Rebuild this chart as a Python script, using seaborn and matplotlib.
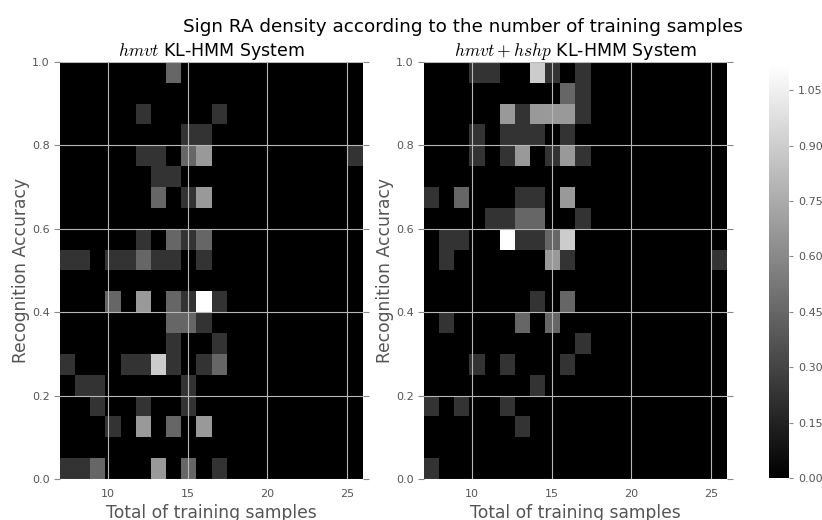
import numpy as np
import matplotlib
matplotlib.use("Agg")
import matplotlib.pyplot as plt
import seaborn as sns

# Recognition accuracy levels (one row of the histogram each)
hmvt_levels = [0.975, 0.875, 0.825, 0.775, 0.725, 0.675, 0.575, 0.525,
               0.425, 0.375, 0.325, 0.275, 0.225, 0.175, 0.125, 0.025]
# number of training samples per sign at each accuracy level
hmvt_samples = [[14], [12, 17], [15, 16], [12, 13, 15, 16, 26], [13, 14],
                [13, 15, 16], [12, 14, 15, 16], [7, 8, 10, 11, 12, 13, 14, 16],
                [10, 12, 14, 15, 16, 17], [14, 15, 16], [14, 17],
                [7, 11, 12, 13, 14, 16, 17], [8, 9, 15], [9, 12, 15],
                [10, 12, 14, 16], [7, 8, 9, 13, 15, 17]]
# number of signs in each (samples, accuracy) cell
hmvt_signs = [[2], [1, 1], [1, 1], [1, 1, 2, 3, 1], [1, 1],
              [2, 1, 3], [1, 2, 1, 2], [1, 1, 1, 1, 2, 1, 1, 1],
              [2, 3, 2, 1, 5, 1], [2, 2, 1], [1, 1],
              [1, 1, 1, 4, 1, 1, 2], [1, 1, 1], [1, 1, 1],
              [1, 3, 2, 3], [1, 1, 2, 3, 2, 1]]

hshp_levels = [0.975, 0.925, 0.875, 0.825, 0.775, 0.675, 0.625, 0.575,
               0.525, 0.425, 0.375, 0.325, 0.275, 0.225, 0.175, 0.125, 0.025]
hshp_samples = [[10, 11, 14, 15, 17], [16, 17], [12, 13, 14, 15, 16, 17],
                [10, 12, 13, 14, 16], [10, 12, 13, 15, 16, 17],
                [7, 9, 13, 14, 16], [11, 12, 13, 14, 17],
                [8, 9, 12, 13, 14, 15, 16], [8, 15, 16, 26],
                [14, 16], [8, 13, 15], [17], [10, 12, 16], [14],
                [7, 9, 12], [13], [7]]
hshp_signs = [[1, 1, 4, 1, 1], [2, 1], [3, 1, 3, 3, 3, 1],
              [1, 1, 1, 1, 1], [1, 1, 3, 1, 3, 1],
              [1, 2, 1, 1, 3], [1, 1, 2, 2, 1],
              [1, 1, 5, 1, 1, 2, 4], [1, 3, 1, 1],
              [1, 2], [1, 2, 2], [1], [1, 1, 1], [1],
              [1, 1, 1], [1], [1]]

titles = ["$hmvt$ KL-HMM System", "$hmvt + hshp$ KL-HMM System"]
cbar_ticks = [0.00, 0.15, 0.30, 0.45, 0.60, 0.75, 0.90, 1.05]


def flatten(levels, samples, signs):
    x, y, w = [], [], []
    for lev, ss, nn in zip(levels, samples, signs):
        for s, n in zip(ss, nn):
            x.append(s)
            y.append(lev)
            w.append(n)
    return x, y, w


grey = "#555555"
plt.rcParams["font.family"] = "DejaVu Sans"
plt.rcParams["mathtext.fontset"] = "cm"

fig = plt.figure(figsize=(8.22, 5.2), dpi=100)
ax1 = fig.add_axes([0.073, 0.079, 0.3686, 0.802])
ax2 = fig.add_axes([0.5158, 0.079, 0.3686, 0.802])
cax = fig.add_axes([0.9355, 0.081, 0.0243, 0.795])

xbins = np.linspace(7, 26, 21)
ybins = np.linspace(0, 1, 21)

panels = [(hmvt_levels, hmvt_samples, hmvt_signs), (hshp_levels, hshp_samples, hshp_signs)]
for i, (ax, data) in enumerate(zip([ax1, ax2], panels)):
    x, y, w = flatten(*data)
    sns.histplot(x=x, y=y, weights=w, bins=[xbins, ybins], stat="density",
                 thresh=None, cmap="gray", vmin=0, vmax=1.12, ax=ax,
                 cbar=(i == 1), cbar_ax=cax if i == 1 else None,
                 cbar_kws={"ticks": cbar_ticks, "format": "%.2f"})
    ax.set_xlim(7, 26)
    ax.set_ylim(0, 1)
    ax.set_xticks([10, 15, 20, 25])
    ax.set_yticks([0.0, 0.2, 0.4, 0.6, 0.8, 1.0])
    ax.set_yticklabels(["0.0", "0.2", "0.4", "0.6", "0.8", "1.0"])
    ax.set_axisbelow(False)
    ax.grid(True, color="#b8b8b8", linewidth=0.8)
    ax.tick_params(axis="both", colors="#888888", labelcolor=grey, labelsize=8,
                   direction="out", length=4, left=True, right=True,
                   top=False, bottom=False)
    for sp in ax.spines.values():
        sp.set_visible(False)
    ax.set_xlabel("Total of training samples", fontsize=12.3, color=grey, labelpad=3)
    ax.set_ylabel("Recognition Accuracy", fontsize=12.3, color=grey, labelpad=1.5)
    ax.set_title(titles[i], fontsize=12.5, pad=4)

cax.tick_params(colors="#888888", labelcolor=grey, labelsize=8, direction="out", length=3)
for sp in cax.spines.values():
    sp.set_visible(False)

fig.suptitle("Sign RA density according to the number of training samples",
             fontsize=13.2, x=0.563, y=0.966)

fig.savefig("out.png", dpi=100)
